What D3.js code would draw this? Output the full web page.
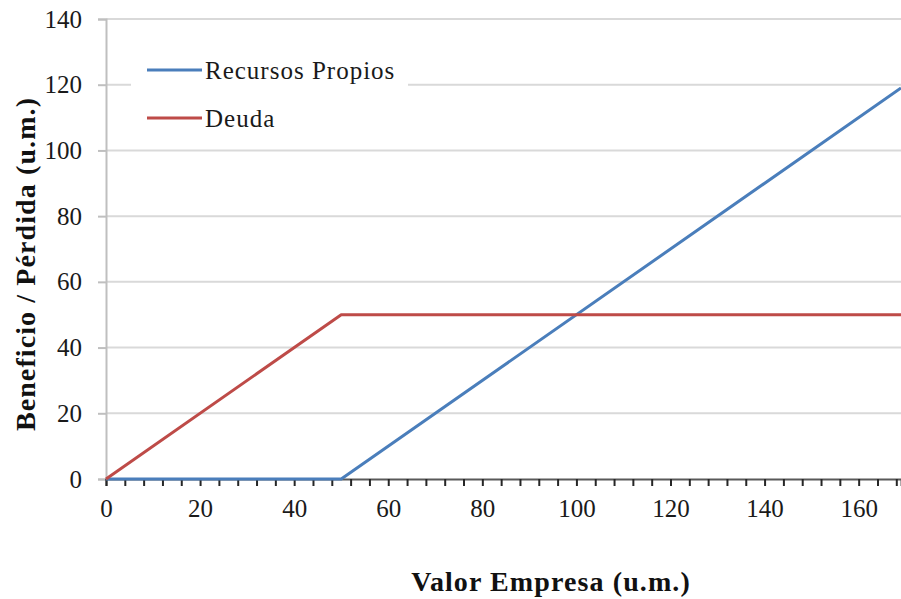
<!DOCTYPE html>
<html>
<head>
<meta charset="utf-8">
<script src="https://cdn.jsdelivr.net/npm/d3@7"></script>
<style>
  html, body { margin: 0; padding: 0; background: #fff; }
  svg { display: block; }
  svg text { font-family: "Liberation Serif", "Times New Roman", serif; }
</style>
</head>
<body>
<svg id="chart" width="901" height="599"></svg>
<script>
// Payoff at maturity: company value vs. equity and debt holders (debt face value 50)
const valorEmpresa = [0, 50, 169];
const recursosPropios = [0, 0, 119];
const deuda = [0, 50, 50];

const seriesNames = ["Recursos Propios", "Deuda"];
const seriesColors = ["#4A7EBB", "#BE4B48"];

const xTickLabels = [0, 20, 40, 60, 80, 100, 120, 140, 160];
const xMinorStep = 4;
const yTickLabels = [0, 20, 40, 60, 80, 100, 120, 140];

const FONT = '"Liberation Serif", "Times New Roman", serif';
const svg = d3.select("#chart");
const plot = { left: 106, right: 901, top: 19, bottom: 479 };

const x = d3.scaleLinear().domain([0, 169]).range([plot.left, plot.right]);
const y = d3.scaleLinear().domain([0, 140]).range([plot.bottom, plot.top]);

// Horizontal gridlines
svg.append("g")
  .selectAll("line")
  .data(yTickLabels.filter(d => d > 0))
  .join("line")
  .attr("x1", plot.left).attr("x2", plot.right)
  .attr("y1", d => y(d)).attr("y2", d => y(d))
  .attr("stroke", "#D9D9D9").attr("stroke-width", 2);

// Y axis
const yAxis = svg.append("g")
  .attr("transform", `translate(${plot.left},0)`)
  .call(d3.axisLeft(y).tickValues(yTickLabels).tickSize(8).tickPadding(16));
yAxis.attr("font-family", null);
yAxis.select(".domain").attr("stroke", "#BFBFBF").attr("stroke-width", 2);
yAxis.selectAll(".tick line").attr("stroke", "#BFBFBF").attr("stroke-width", 2);
yAxis.selectAll(".tick text")
  .attr("font-size", 25).attr("fill", "#1a1a1a")
  .style("font-family", FONT);

// X axis: minor tick marks every 4 units, labels every 20
const xMinor = d3.range(0, 170, xMinorStep);
const xAxisMinor = svg.append("g")
  .attr("transform", `translate(0,${plot.bottom})`)
  .call(d3.axisBottom(x).tickValues(xMinor).tickSize(7).tickFormat(""));
xAxisMinor.select(".domain").attr("stroke", "#595959").attr("stroke-width", 2);
xAxisMinor.selectAll(".tick line").attr("stroke", "#262626").attr("stroke-width", 2);

const xAxisLabels = svg.append("g")
  .attr("transform", `translate(0,${plot.bottom})`)
  .call(d3.axisBottom(x).tickValues(xTickLabels).tickSize(0).tickPadding(20));
xAxisLabels.attr("font-family", null);
xAxisLabels.select(".domain").remove();
xAxisLabels.selectAll(".tick text")
  .attr("font-size", 25).attr("fill", "#1a1a1a")
  .style("font-family", FONT);

// Legend box (white, drawn over gridlines)
const legend = svg.append("g");
legend.append("rect")
  .attr("x", 131).attr("y", 46).attr("width", 277).attr("height", 98)
  .attr("fill", "#fff");
seriesNames.forEach((name, i) => {
  const ly = 70 + i * 48;
  legend.append("line")
    .attr("x1", 147).attr("x2", 202).attr("y1", ly).attr("y2", ly)
    .attr("stroke", seriesColors[i]).attr("stroke-width", 3);
  legend.append("text")
    .attr("x", 205).attr("y", ly)
    .attr("dy", "0.35em")
    .attr("font-size", 25)
    .attr("letter-spacing", 1)
    .attr("fill", "#1a1a1a")
    .style("font-family", FONT)
    .text(name);
});

// Series lines
const line = d3.line().x(d => x(d[0])).y(d => y(d[1]));
const series = [recursosPropios, deuda];
series.forEach((vals, i) => {
  svg.append("path")
    .datum(valorEmpresa.map((v, k) => [v, vals[k]]))
    .attr("d", line)
    .attr("fill", "none")
    .attr("stroke", seriesColors[i])
    .attr("stroke-width", 3)
    .attr("stroke-linejoin", "round");
});

// Axis titles
svg.append("text")
  .attr("x", 551).attr("y", 581).attr("dy", "0.35em")
  .attr("text-anchor", "middle")
  .attr("font-size", 28).attr("font-weight", "bold")
  .attr("letter-spacing", 1.1).attr("fill", "#111")
  .style("font-family", FONT)
  .text("Valor Empresa (u.m.)");

svg.append("text")
  .attr("transform", "translate(25,264) rotate(-90)")
  .attr("dy", "0.35em")
  .attr("text-anchor", "middle")
  .attr("font-size", 28).attr("font-weight", "bold")
  .attr("letter-spacing", 1.1).attr("fill", "#111")
  .style("font-family", FONT)
  .text("Beneficio / Pérdida (u.m.)");
</script>
</body>
</html>
